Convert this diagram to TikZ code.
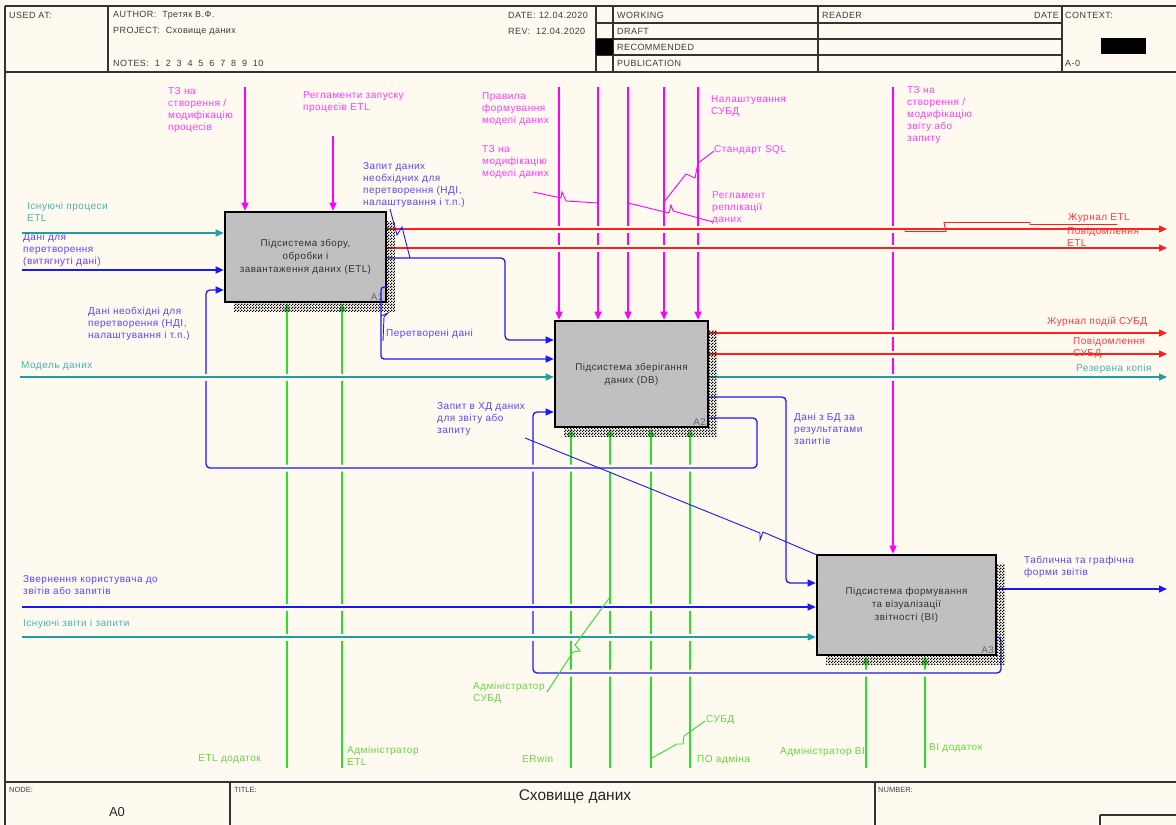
\documentclass[tikz,border=0pt]{standalone}
\usepackage{fontspec}
\setmainfont{Liberation Sans}
\newfontfamily\lblfam[LetterSpace=5]{Liberation Sans}
\usetikzlibrary{arrows.meta,patterns}
\pgfdeclarelayer{bgl}
\pgfdeclarelayer{lines}
\pgfdeclarelayer{front}
\pgfsetlayers{bgl,lines,main,front}
\pgfdeclarepatternformonly{checker}{\pgfpointorigin}{\pgfpoint{3pt}{3pt}}{\pgfpoint{3pt}{3pt}}{%
  \pgfpathrectangle{\pgfpointorigin}{\pgfpoint{1.5pt}{1.5pt}}%
  \pgfpathrectangle{\pgfpoint{1.5pt}{1.5pt}}{\pgfpoint{1.5pt}{1.5pt}}%
  \pgfusepath{fill}}
\definecolor{bg}{RGB}{255,250,240}
\definecolor{boxgray}{RGB}{192,192,192}
\definecolor{boxtxt}{RGB}{50,50,50}
\definecolor{cMag}{RGB}{255,0,255}
\definecolor{cRed}{RGB}{255,30,30}
\definecolor{cBlue}{RGB}{25,25,245}
\definecolor{cTeal}{RGB}{30,160,160}
\definecolor{cGreen}{RGB}{40,225,40}
\definecolor{tMag}{RGB}{255,60,255}
\definecolor{tRed}{RGB}{255,60,60}
\definecolor{tBlue}{RGB}{90,70,255}
\definecolor{tTeal}{RGB}{70,180,180}
\definecolor{tGreen}{RGB}{100,215,60}
\definecolor{hdrc}{RGB}{60,60,60}
\newcommand{\lblf}{\lblfam\fontsize{10}{12.2}\selectfont}
\newcommand{\boxf}{\lblfam\fontsize{9.8}{13}\selectfont}
\newcommand{\hdrf}{\lblfam\fontsize{9}{11}\selectfont}
\newcommand{\ftrf}{\fontsize{7.5}{9}\selectfont}
\begin{document}
\begin{tikzpicture}[x=1pt,y=-1pt,
 lbl/.style={anchor=north west, inner sep=0pt, align=left, font=\lblf},
 box/.style={draw=black, line width=2.6pt, fill=boxgray, inner sep=2pt, align=center, font=\boxf, text=boxtxt},
 corner/.style={anchor=south east, inner sep=0pt, font=\boxf, text=black!60},
 conn/.style={line width=1.3pt, -{Triangle[length=8pt,width=7pt]}},
 leader/.style={line width=0.9pt},
 halo/.style={preaction={draw=bg, line width=7pt, arrows=-}},
 frm/.style={draw=black!80, line width=1.2pt},
 hdr/.style={anchor=west, inner sep=0pt, font=\hdrf, text=hdrc},
 ftr/.style={anchor=west, inner sep=0pt, font=\ftrf, text=hdrc},
 shad/.style={pattern=checker, pattern color=black}
]
\useasboundingbox (0,0) rectangle (1176,825);
\begin{pgfonlayer}{bgl}
\fill[bg] (0,0) rectangle (1176,825);
\end{pgfonlayer}

% ---------- frame ----------
\draw[frm, line width=2pt] (5,6) -- (1176,6);
\draw[frm, line width=2pt] (5,6) -- (5,825);
\draw[frm, line width=1.6pt] (5,72) -- (1176,72);
\draw[frm] (108,6) -- (108,72);
\draw[frm] (596,6) -- (596,72);
\draw[frm, line width=1.6pt] (613,6) -- (613,72);
\draw[frm] (818,6) -- (818,72);
\draw[frm] (1062,6) -- (1062,72);
\foreach \yy in {23,39,55} \draw[frm] (596,\yy) -- (1062,\yy);
\fill[black] (596,39) rectangle (613,55);
\fill[black] (1101,38) rectangle (1146,54);
\draw[frm, line width=1.6pt] (5,782) -- (1176,782);
\draw[frm] (230,782) -- (230,825);
\draw[frm] (875,782) -- (875,825);
\draw[frm] (1100,815) -- (1176,815);
\draw[frm] (1100,815) -- (1100,825);

% header texts
\node[hdr] (hUsed) at (9,15) {USED AT:};
\node[hdr] (hAuth) at (113,15) {AUTHOR:\ \ Третяк В.Ф.};
\node[hdr] (hProj) at (113,31) {PROJECT:\ \ Сховище даних};
\node[hdr] (hNotes) at (113,63) {NOTES:\ \ 1\ \ 2\ \ 3\ \ 4\ \ 5\ \ 6\ \ 7\ \ 8\ \ 9\ \ 10};
\node[hdr] (hDate) at (508,15) {DATE: 12.04.2020};
\node[hdr] (hRev) at (508,31) {REV:\ \ 12.04.2020};
\node[hdr] (hWork) at (617,15) {WORKING};
\node[hdr] (hDraft) at (617,31) {DRAFT};
\node[hdr] (hRec) at (617,47) {RECOMMENDED};
\node[hdr] (hPub) at (617,63) {PUBLICATION};
\node[hdr] (hRead) at (822,15) {READER};
\node[hdr, anchor=east] (hDate2) at (1059,15) {DATE};
\node[hdr] (hCtx) at (1065,15) {CONTEXT:};
\node[hdr] (hA0) at (1065,63) {A-0};
% footer texts
\node[ftr] (fNode) at (9,790) {NODE:};
\node[inner sep=0pt, font=\fontsize{13}{15}\selectfont, text=black!85] (fA0) at (117,812) {A0};
\node[ftr] (fTitle) at (234,790) {TITLE:};
\node[inner sep=0pt, font=\fontsize{15.5}{18}\selectfont, text=black!85] (fT) at (575,797) {Сховище даних};
\node[ftr] (fNum) at (878,790) {NUMBER:};

% ---------- boxes ----------
\fill[shad] (234,221) rectangle (395,311);
\node[box, minimum width=161pt, minimum height=90pt] (A1) at (305.5,257) {Підсистема збору,\\обробки і\\завантаження даних (ETL)};
\node[corner] (A1n) at (383.5,300.5) {A1};
\fill[shad] (564,330) rectangle (717,436);
\node[box, minimum width=153pt, minimum height=106pt] (A2) at (631.5,374) {Підсистема зберігання\\даних (DB)};
\node[corner] (A2n) at (706,425.5) {A2};
\fill[shad] (826,564) rectangle (1005,664);
\node[box, minimum width=179pt, minimum height=100pt] (A3) at (906.5,605) {Підсистема формування\\та візуалізації\\звітності (BI)};
\node[corner] (A3n) at (994,653.5) {A3};

% ---------- coordinates ----------
\coordinate (ctA) at (245,87);
\coordinate (ctB) at (333,136);
\coordinate (ctC) at (559,87);
\coordinate (ctD) at (598,87);
\coordinate (ctE) at (628,87);
\coordinate (ctF) at (664,87);
\coordinate (ctG) at (698,87);
\coordinate (ctH) at (893,87);
\coordinate (mA) at (287,768);
\coordinate (mB) at (342,768);
\coordinate (mC) at (571,768);
\coordinate (mD) at (610,768);
\coordinate (mE) at (651,768);
\coordinate (mF) at (690,768);
\coordinate (mG) at (866,768);
\coordinate (mH) at (925,768);
\coordinate (iA) at (22,233);
\coordinate (iB) at (22,270);
\coordinate (iM) at (20,377);
\coordinate (iZ) at (22,607);
\coordinate (iE) at (22,637);
\coordinate (oA) at (1167,229);
\coordinate (oB) at (1167,248);
\coordinate (oC) at (1167,333);
\coordinate (oD) at (1167,354);
\coordinate (oE) at (1167,377);
\coordinate (oF) at (1167,589);
\coordinate (y258) at (0,258);
\coordinate (y340) at (0,340);
\coordinate (y287) at (0,287);
\coordinate (y359) at (0,359);
\coordinate (y397) at (0,397);
\coordinate (y583) at (0,583);
\coordinate (y418) at (0,418);
\coordinate (y290) at (0,290);
\coordinate (y637) at (0,637);
\coordinate (y412) at (0,412);

% ---------- connectors ----------
\begin{pgfonlayer}{lines}
\foreach \c/\b in {ctA/A1,ctB/A1,ctC/A2,ctD/A2,ctE/A2,ctF/A2,ctG/A2,ctH/A3}
  \draw[conn, cMag] (\c) -- (\c |- \b.north);
\foreach \c/\b in {mA/A1,mB/A1,mC/A2,mD/A2,mE/A2,mF/A2,mG/A3,mH/A3}
  \draw[conn, cGreen] (\c) -- (\c |- \b.south);
% A3 -> A2 loop
\draw[conn, cBlue, halo, rounded corners=4pt] (A3.east |- y637) -- (1001,637) -- (1001,673) -- (533,673) -- (533,412) -- (A2.west |- y412);
% A2 -> A1 loop
\draw[conn, cBlue, halo, rounded corners=4pt] (A2.east |- y418) -- (757,418) -- (757,468) -- (206,468) -- (206,290) -- (A1.west |- y290);
% A2 -> A3
\draw[conn, cBlue, halo, rounded corners=4pt] (A2.east |- y397) -- (786,397) -- (786,583) -- (A3.west |- y583);
% A1 -> A2
\draw[conn, cBlue, halo, rounded corners=4pt] (A1.east |- y258) -- (505,258) -- (505,340) -- (A2.west |- y340);
% inputs
\draw[conn, cTeal, halo] (iA) -- (iA -| A1.west);
\draw[conn, cBlue, halo] (iB) -- (iB -| A1.west);
\draw[conn, cTeal, halo] (iM) -- (iM -| A2.west);
\draw[conn, cBlue, halo] (iZ) -- (iZ -| A3.west);
\draw[conn, cTeal, halo] (iE) -- (iE -| A3.west);
% outputs
\draw[conn, cRed, halo] (A1.east |- oA) -- (oA);
\draw[conn, cRed, halo] (A1.east |- oB) -- (oB);
\draw[conn, cRed, halo] (A2.east |- oC) -- (oC);
\draw[conn, cRed, halo] (A2.east |- oD) -- (oD);
\draw[conn, cTeal, halo] (A2.east |- oE) -- (oE);
\draw[conn, cBlue, halo] (A3.east |- oF) -- (oF);
\end{pgfonlayer}

\begin{pgfonlayer}{front}
% A1 -> A2 (Перетворені дані)
\draw[conn, cBlue, rounded corners=3pt] (A1.east |- y287) -- (381,287) -- (381,359) -- (A2.west |- y359);
% leaders
\draw[leader, cBlue] (390,209) -- (397,235) -- (402,227) -- (410,258);
\draw[leader, cBlue] (383,341) -- (384,317) -- (388,313) -- (381,316);
\draw[leader, cMag] (533,192) -- (561,198) -- (562,192) -- (566,201) -- (598,203);
\draw[leader, cMag] (714,151) -- (698,163) -- (695,178) -- (686,174) -- (664,202);
\draw[leader, cMag] (713,222) -- (673,211) -- (671,205) -- (669,213) -- (628,203);
\draw[line width=2.2pt, cRed] (818,229) -- (903,229);
\draw[leader, cRed] (1117,224.5) -- (1030,224.5) -- (1030,222.5) -- (944,222.5) -- (946,231.5) -- (905,231.5) -- (905,229);
\draw[leader, cBlue] (525,438) -- (760,533) -- (760,540) -- (763,532) -- (817,555);
\draw[leader, cGreen] (547,692) -- (573,652) -- (580,651) -- (575,645) -- (610,597);
\draw[leader, cGreen] (705,721) -- (684,736) -- (683,744) -- (677,744) -- (652,758);

% labels
\node[lbl, text=tMag] (lA) at (168,87) {ТЗ на\\створення /\\модифікацію\\процесів};
\node[lbl, text=tMag] (lB) at (303,91) {Регламенти запуску\\процесів ETL};
\node[lbl, text=tMag] (lC) at (482,92) {Правила\\формування\\моделі даних};
\node[lbl, text=tMag] (lD) at (482,145) {ТЗ на\\модифікацію\\моделі даних};
\node[lbl, text=tMag] (lG) at (711,95) {Налаштування\\СУБД};
\node[lbl, text=tMag] (lF) at (714,145) {Стандарт SQL};
\node[lbl, text=tMag] (lE) at (712,191) {Регламент\\реплікації\\даних};
\node[lbl, text=tMag] (lH) at (907,86) {ТЗ на\\створення /\\модифікацію\\звіту або\\запиту};

\node[lbl, text=tBlue] (lQ1) at (363,162) {Запит даних\\необхідних для\\перетворення (НДІ,\\налаштування і т.п.)};
\node[lbl, text=tBlue] (liB) at (23,233) {Дані для\\перетворення\\(витягнуті дані)};
\node[lbl, text=tBlue] (lLoop) at (88,307) {Дані необхідні для\\перетворення (НДІ,\\налаштування і т.п.)};
\node[lbl, text=tBlue] (lPer) at (386,329) {Перетворені дані};
\node[lbl, text=tBlue] (lZap) at (437,402) {Запит в ХД даних\\для звіту або\\запиту};
\node[lbl, text=tBlue] (lDb) at (794,413) {Дані з БД за\\результатами\\запитів};
\node[lbl, text=tBlue] (liZ) at (23,575) {Звернення користувача до\\звітів або запитів};
\node[lbl, text=tBlue] (loF) at (1024,556) {Таблична та графічна\\форми звітів};

\node[lbl, text=tRed] (loA) at (1068,213) {Журнал ETL};
\node[lbl, text=tRed] (loB) at (1067,227) {Повідомлення\\ETL};
\node[lbl, text=tRed] (loC) at (1047,317) {Журнал подій СУБД};
\node[lbl, text=tRed] (loD) at (1073,337) {Повідомлення\\СУБД};

\node[lbl, text=tTeal] (liA) at (27,202) {Існуючі процеси\\ETL};
\node[lbl, text=tTeal] (liM) at (21,361) {Модель даних};
\node[lbl, text=tTeal] (loE) at (1076,364) {Резервна копія};
\node[lbl, text=tTeal] (liE) at (23,619) {Існуючі звіти і запити};

\node[lbl, anchor=north east, text=tGreen] (lmA) at (261,754) {ETL додаток};
\node[lbl, text=tGreen] (lmB) at (347,746) {Адміністратор\\ETL};
\node[lbl, text=tGreen] (lmC) at (522,755) {ERwin};
\node[lbl, text=tGreen] (lmD) at (473,682) {Адміністратор\\СУБД};
\node[lbl, text=tGreen] (lmE) at (706,715) {СУБД};
\node[lbl, text=tGreen] (lmF) at (697,755) {ПО адміна};
\node[lbl, text=tGreen] (lmG) at (780,747) {Адміністратор BI};
\node[lbl, text=tGreen] (lmH) at (929,743) {BI додаток};
\end{pgfonlayer}
\end{tikzpicture}
\end{document}
